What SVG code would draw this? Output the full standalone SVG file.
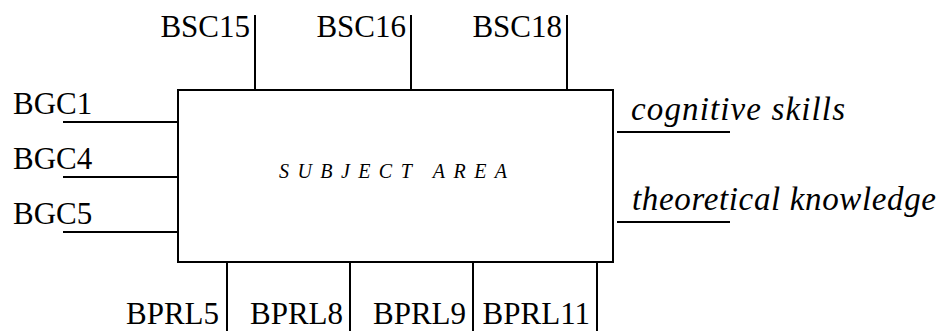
<svg xmlns="http://www.w3.org/2000/svg" width="940" height="331" viewBox="0 0 940 331">
  <style>
    .ln { stroke: #000; stroke-width: 2; fill: none; }
    .box { stroke: #000; stroke-width: 2; fill: #fff; }
    .lbl { font-size: 31px; fill: #000; }
    .out { font-size: 33px; font-style: italic; fill: #000; }
    .title { font-size: 20px; font-style: italic; fill: #000; }
  </style>

  <!-- connectors -->
  <g id="connectors">
    <line class="ln" x1="255" y1="15" x2="255" y2="90"/>
    <line class="ln" x1="411" y1="15" x2="411" y2="90"/>
    <line class="ln" x1="567" y1="15" x2="567" y2="90"/>
    <line class="ln" x1="63" y1="122" x2="178" y2="122"/>
    <line class="ln" x1="63" y1="177" x2="178" y2="177"/>
    <line class="ln" x1="63" y1="232" x2="178" y2="232"/>
    <line class="ln" x1="227" y1="262" x2="227" y2="331"/>
    <line class="ln" x1="350" y1="262" x2="350" y2="331"/>
    <line class="ln" x1="473" y1="262" x2="473" y2="331"/>
    <line class="ln" x1="597" y1="262" x2="597" y2="331"/>
    <line class="ln" x1="617" y1="132" x2="730" y2="132"/>
    <line class="ln" x1="617" y1="222" x2="730" y2="222"/>
  </g>

  <!-- central block -->
  <g id="subject-area">
    <rect class="box" x="178" y="90" width="435" height="172"/>
    <text class="title" x="279" y="178" font-family="Liberation Serif, serif" textLength="228" lengthAdjust="spacing">SUBJECT AREA</text>
  </g>

  <!-- inputs from above -->
  <g id="bsc15"><text class="lbl" x="250" y="37" font-family="Liberation Serif, serif" text-anchor="end">BSC15</text></g>
  <g id="bsc16"><text class="lbl" x="406" y="37" font-family="Liberation Serif, serif" text-anchor="end">BSC16</text></g>
  <g id="bsc18"><text class="lbl" x="562" y="37" font-family="Liberation Serif, serif" text-anchor="end">BSC18</text></g>

  <!-- inputs from the left -->
  <g id="bgc1"><text class="lbl" x="13" y="114" font-family="Liberation Serif, serif">BGC1</text></g>
  <g id="bgc4"><text class="lbl" x="13" y="169" font-family="Liberation Serif, serif">BGC4</text></g>
  <g id="bgc5"><text class="lbl" x="13" y="224" font-family="Liberation Serif, serif">BGC5</text></g>

  <!-- inputs from below -->
  <g id="bprl5"><text class="lbl" x="219" y="324" font-family="Liberation Serif, serif" text-anchor="end">BPRL5</text></g>
  <g id="bprl8"><text class="lbl" x="343" y="324" font-family="Liberation Serif, serif" text-anchor="end">BPRL8</text></g>
  <g id="bprl9"><text class="lbl" x="466" y="324" font-family="Liberation Serif, serif" text-anchor="end">BPRL9</text></g>
  <g id="bprl11"><text class="lbl" x="590" y="324" font-family="Liberation Serif, serif" text-anchor="end">BPRL11</text></g>

  <!-- outputs -->
  <g id="cognitive-skills"><text class="out" x="631" y="120" font-family="Liberation Serif, serif" textLength="214" lengthAdjust="spacing">cognitive skills</text></g>
  <g id="theoretical-knowledge"><text class="out" x="632" y="210" font-family="Liberation Serif, serif" textLength="304" lengthAdjust="spacing">theoretical knowledge</text></g>
</svg>
